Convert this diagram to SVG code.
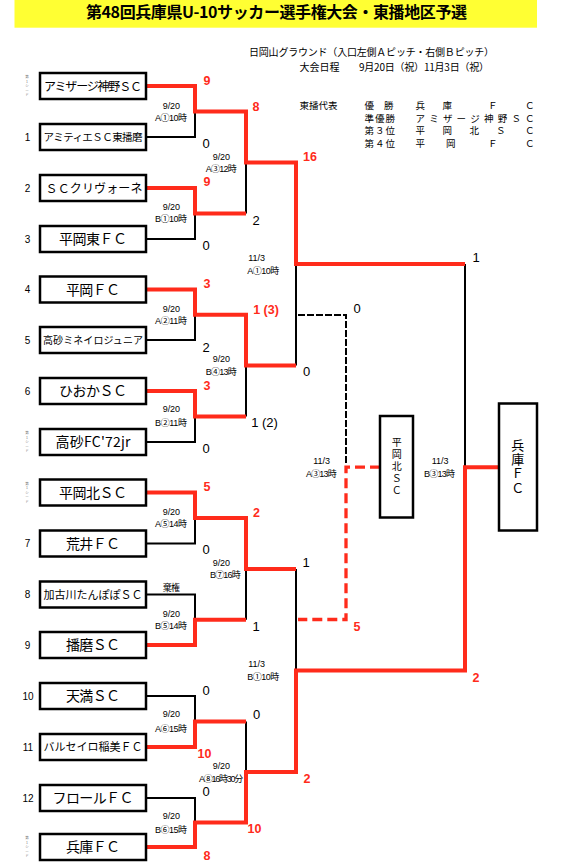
<svg xmlns="http://www.w3.org/2000/svg" width="567" height="866" viewBox="0 0 567 866">
<style>
.box{fill:#fff;stroke:#000;stroke-width:2.5}
.bk{stroke:#000;stroke-width:2;fill:none}
.rd{stroke:#ff2b1b;stroke-width:4;fill:none;stroke-linejoin:miter}
.bkd{stroke:#000;stroke-width:2;fill:none;stroke-dasharray:7 2}
.rdd{stroke:#ff2b1b;stroke-width:3.3;fill:none;stroke-dasharray:10 5}
.tn{font-family:"Noto Sans CJK JP","Liberation Sans",sans-serif;text-anchor:middle;fill:#000}
.vt{font-family:"Noto Sans CJK JP","Liberation Sans",sans-serif;writing-mode:vertical-rl;text-anchor:start;fill:#000}
.sc{font-family:"Liberation Sans",sans-serif;font-size:13px;text-anchor:middle;fill:#000}
.sr{font-family:"Liberation Sans",sans-serif;font-size:12.5px;font-weight:bold;text-anchor:middle;fill:#ff2b1b}
.lb{font-family:"Liberation Sans","Noto Sans CJK JP",sans-serif;font-size:9px;fill:#000}
.num{font-family:"Liberation Sans",sans-serif;font-size:10px;text-anchor:middle;fill:#000}
.hd{font-family:"Noto Sans CJK JP","Liberation Sans",sans-serif;font-size:10px;fill:#000}
.hr{font-family:"Noto Sans CJK JP","Liberation Sans",sans-serif;font-size:9.5px;fill:#000}
.seed{font-family:"Noto Sans CJK JP",sans-serif;font-size:3.5px;fill:#777;text-anchor:middle}
</style>

<g id="title">
<rect x="14.5" y="0" width="522.5" height="27.7" fill="#ffff33"/>
<text x="86" y="17.5" textLength="381" font-family="Noto Sans CJK JP, sans-serif" font-size="16" font-weight="bold">第48回兵庫県U-10サッカー選手権大会・東播地区予選</text>
</g>

<g id="header">
<text class="hd" x="249" y="55.5" textLength="245">日岡山グラウンド（入口左側Ａピッチ・右側Ｂピッチ）</text>
<text class="hd" x="299.5" y="70.5">大会日程</text>
<text class="hd" x="359" y="70.5" textLength="130">9月20日（祝）11月3日（祝）</text>
<text class="hr" x="299.5" y="109.3">東播代表</text>
<text class="hr" x="364.5 384" y="109.3">優勝</text>
<text class="hr" x="415.5 442.5 488 525" y="109.3">兵庫ＦＣ</text>
<text class="hr" x="364.5 375 385.5" y="121.6">準優勝</text>
<text class="hr" x="415.5 429.2 442.9 456.6 470.3 484 497.7 511.4 525.1" y="121.6">アミザージ神野ＳＣ</text>
<text class="hr" x="364.5 375 385.5" y="133.9">第３位</text>
<text class="hr" x="415.5 442.5 469.5 496 525" y="133.9">平岡北ＳＣ</text>
<text class="hr" x="364.5 375 385.5" y="147.2">第４位</text>
<text class="hr" x="415.5 446 488 525" y="147.2">平岡ＦＣ</text>
</g>

<g id="connectors">
<path class="bk" d="M146 137H195V111.5M146 239H195V213.5M146 340H195V314.75M146 442H195V416.5M146 543.5H195V518M146 594.5H195V619.75M146 696H195V721.5M146 798H195V822.5"/>
<path class="bk" d="M246 213.5V162.5M246 416.5V365.6M246 619.75V568.9M246 721.5V772M296 365.6V264M296 568.9V670.5M465 264V467.2"/>
<path class="bkd" d="M298 315H346V465"/>
<path class="rdd" d="M380 467.2H346V619.5H298"/>
<path class="rd" d="M146 86H195V111.5H246V162.5H296V264H465"/>
<path class="rd" d="M146 188H195V213.5H246"/>
<path class="rd" d="M146 289.5H195V314.75H246V365.6H296"/>
<path class="rd" d="M146 391H195V416.5H246"/>
<path class="rd" d="M146 492.5H195V518H246V568.9H296"/>
<path class="rd" d="M146 645H195V619.75H246"/>
<path class="rd" d="M146 747H195V721.5H246"/>
<path class="rd" d="M146 847H195V822.5H246V772H296V670.5H465V467.2H499"/>
</g>

<g id="team1"><rect class="box" x="40" y="73" width="106" height="26"/><text class="tn" x="93" y="90.6" font-size="12" textLength="98">アミザージ神野ＳＣ</text><text class="seed" x="27" y="78"><tspan x="27" dy="0">第</tspan><tspan x="27" dy="4.5">1</tspan><tspan x="27" dy="4.5">シ</tspan><tspan x="27" dy="4.5">ー</tspan><tspan x="27" dy="4.5">ド</tspan></text></g>
<g id="team2"><rect class="box" x="40" y="124" width="106" height="26"/><text class="tn" x="93" y="141" font-size="10.5" textLength="99">アミティエＳＣ東播磨</text><text class="num" x="27.5" y="140.5">1</text></g>
<g id="team3"><rect class="box" x="40" y="175" width="106" height="26"/><text class="tn" x="94" y="192.6" font-size="12" textLength="97">ＳＣクリヴォーネ</text><text class="num" x="27.5" y="191.5">2</text></g>
<g id="team4"><rect class="box" x="40" y="226" width="106" height="26"/><text class="tn" x="93" y="244.3" font-size="14" textLength="68">平岡東ＦＣ</text><text class="num" x="27.5" y="242.5">3</text></g>
<g id="team5"><rect class="box" x="40" y="276.5" width="106" height="26"/><text class="tn" x="93" y="294.8" font-size="14" textLength="54">平岡ＦＣ</text><text class="num" x="27.5" y="293">4</text></g>
<g id="team6"><rect class="box" x="40" y="327" width="106" height="26"/><text class="tn" x="93" y="343.8" font-size="10" textLength="100">高砂ミネイロジュニア</text><text class="num" x="27.5" y="343.5">5</text></g>
<g id="team7"><rect class="box" x="40" y="378" width="106" height="26"/><text class="tn" x="93" y="396.3" font-size="14" textLength="68">ひおかＳＣ</text><text class="num" x="27.5" y="394.5">6</text></g>
<g id="team8"><rect class="box" x="40" y="429" width="106" height="26"/><text class="tn" x="93" y="447.3" font-size="14" textLength="75">高砂FC'72jr</text><text class="seed" x="27" y="434"><tspan x="27" dy="0">第</tspan><tspan x="27" dy="4.5">1</tspan><tspan x="27" dy="4.5">シ</tspan><tspan x="27" dy="4.5">ー</tspan><tspan x="27" dy="4.5">ド</tspan></text></g>
<g id="team9"><rect class="box" x="40" y="479.5" width="106" height="26"/><text class="tn" x="93" y="497.8" font-size="14" textLength="68">平岡北ＳＣ</text><text class="seed" x="27" y="484.5"><tspan x="27" dy="0">第</tspan><tspan x="27" dy="4.5">1</tspan><tspan x="27" dy="4.5">シ</tspan><tspan x="27" dy="4.5">ー</tspan><tspan x="27" dy="4.5">ド</tspan></text></g>
<g id="team10"><rect class="box" x="40" y="530.5" width="106" height="26"/><text class="tn" x="93" y="548.8" font-size="14" textLength="54">荒井ＦＣ</text><text class="num" x="27.5" y="547">7</text></g>
<g id="team11"><rect class="box" x="40" y="581.5" width="106" height="26"/><text class="tn" x="93" y="598.7" font-size="11" textLength="99">加古川たんぽぽＳＣ</text><text class="num" x="27.5" y="598">8</text></g>
<g id="team12"><rect class="box" x="40" y="632" width="106" height="26"/><text class="tn" x="93" y="650.3" font-size="14" textLength="54">播磨ＳＣ</text><text class="num" x="27.5" y="648.5">9</text></g>
<g id="team13"><rect class="box" x="40" y="683" width="106" height="26"/><text class="tn" x="93" y="701.3" font-size="14" textLength="54">天満ＳＣ</text><text class="num" x="28" y="699.5">10</text></g>
<g id="team14"><rect class="box" x="40" y="734" width="106" height="26"/><text class="tn" x="93" y="751.2" font-size="11" textLength="99">バルセイロ稲美ＦＣ</text><text class="num" x="28" y="750.5">11</text></g>
<g id="team15"><rect class="box" x="40" y="785" width="106" height="26"/><text class="tn" x="93" y="803.2" font-size="14" textLength="81">フロールＦＣ</text><text class="num" x="28" y="801.5">12</text></g>
<g id="team16"><rect class="box" x="40" y="834" width="106" height="26"/><text class="tn" x="93" y="852.3" font-size="14" textLength="54">兵庫ＦＣ</text><text class="seed" x="27" y="839"><tspan x="27" dy="0">第</tspan><tspan x="27" dy="4.5">1</tspan><tspan x="27" dy="4.5">シ</tspan><tspan x="27" dy="4.5">ー</tspan><tspan x="27" dy="4.5">ド</tspan></text></g>

<g id="third">
<rect class="box" x="380" y="416" width="33" height="101.5"/>
<text class="vt" x="396.7" y="437.7" font-size="10" letter-spacing="2">平岡北ＳＣ</text>
</g>

<g id="champion">
<rect class="box" x="499" y="403.5" width="38" height="127"/>
<text class="vt" x="517.7" y="438.5" font-size="13" letter-spacing="1.3">兵庫ＦＣ</text>
</g>

<g id="labels">
<text class="lb" x="162.7" y="108.6" textLength="17.3">9/20</text><text class="lb" x="155" y="120.6" textLength="32">A①10時</text>
<text class="lb" x="162.7" y="210" textLength="17.3">9/20</text><text class="lb" x="155" y="222.3" textLength="32">B①10時</text>
<text class="lb" x="162.7" y="311.6" textLength="17.3">9/20</text><text class="lb" x="155" y="324" textLength="32">A②11時</text>
<text class="lb" x="162.7" y="412.3" textLength="17.3">9/20</text><text class="lb" x="155" y="426" textLength="32">B②11時</text>
<text class="lb" x="162.7" y="515" textLength="17.3">9/20</text><text class="lb" x="155" y="526.6" textLength="32">A⑤14時</text>
<text class="lb" x="162.7" y="590.6" textLength="17.3">棄権</text>
<text class="lb" x="162.7" y="616.6" textLength="17.3">9/20</text><text class="lb" x="155" y="628.6" textLength="32">B⑤14時</text>
<text class="lb" x="162.7" y="717.3" textLength="17.3">9/20</text><text class="lb" x="155" y="731.6" textLength="32">A⑥15時</text>
<text class="lb" x="162.7" y="819.3" textLength="17.3">9/20</text><text class="lb" x="155" y="832.6" textLength="32">B⑥15時</text>
<text class="lb" x="212.7" y="160" textLength="17.3">9/20</text><text class="lb" x="205.7" y="171.6" textLength="31">A③12時</text>
<text class="lb" x="212.7" y="362.3" textLength="17.3">9/20</text><text class="lb" x="205.7" y="375" textLength="31">B④13時</text>
<text class="lb" x="212.7" y="566" textLength="17.3">9/20</text><text class="lb" x="210" y="577.6" textLength="30.7">B⑦16時</text>
<text class="lb" x="212.7" y="769.3" textLength="17.3">9/20</text><text class="lb" x="199" y="781.6" textLength="44.3">A⑧16時30分</text>
<text class="lb" x="248.3" y="260.6" textLength="16.7">11/3</text><text class="lb" x="247.3" y="274" textLength="32">A①10時</text>
<text class="lb" x="248.3" y="667.3" textLength="16.7">11/3</text><text class="lb" x="247.3" y="680" textLength="32">B①10時</text>
<text class="lb" x="313.3" y="464" textLength="16.7">11/3</text><text class="lb" x="306" y="476.6" textLength="30.7">A③13時</text>
<text class="lb" x="431.7" y="464" textLength="16.7">11/3</text><text class="lb" x="424" y="476.6" textLength="31">B③13時</text>
</g>

<g id="scores">
<text class="sr" x="207" y="84.5">9</text>
<text class="sc" x="206" y="147.7">0</text>
<text class="sr" x="207" y="186">9</text>
<text class="sc" x="206" y="249.7">0</text>
<text class="sr" x="256" y="110.5">8</text>
<text class="sc" x="256" y="225.2">2</text>
<text class="sr" x="310" y="160.5">16</text>
<text class="sr" x="207" y="287.5">3</text>
<text class="sc" x="206" y="351.7">2</text>
<text class="sr" x="207" y="389.5">3</text>
<text class="sc" x="206" y="452.7">0</text>
<text class="sr" x="266" y="313.7">1 (3)</text>
<text class="sc" x="264.5" y="427.4" font-size="12">1 (2)</text>
<text class="sc" x="306.5" y="376.4">0</text>
<text class="sc" x="357" y="312.7">0</text>
<text class="sc" x="476" y="261.7">1</text>
<text class="sr" x="207" y="490.5">5</text>
<text class="sc" x="206" y="554.2">0</text>
<text class="sr" x="256.5" y="516.5">2</text>
<text class="sc" x="256" y="630.7">1</text>
<text class="sc" x="306" y="567.2">1</text>
<text class="sr" x="357" y="630.5">5</text>
<text class="sc" x="206" y="694.7">0</text>
<text class="sr" x="204.5" y="757.5">10</text>
<text class="sc" x="206" y="795.7">0</text>
<text class="sr" x="207" y="859.5">8</text>
<text class="sc" x="256.5" y="719.2">0</text>
<text class="sr" x="254.5" y="832.5">10</text>
<text class="sr" x="307" y="782.5">2</text>
<text class="sr" x="476" y="681.5">2</text>
</g>
</svg>
